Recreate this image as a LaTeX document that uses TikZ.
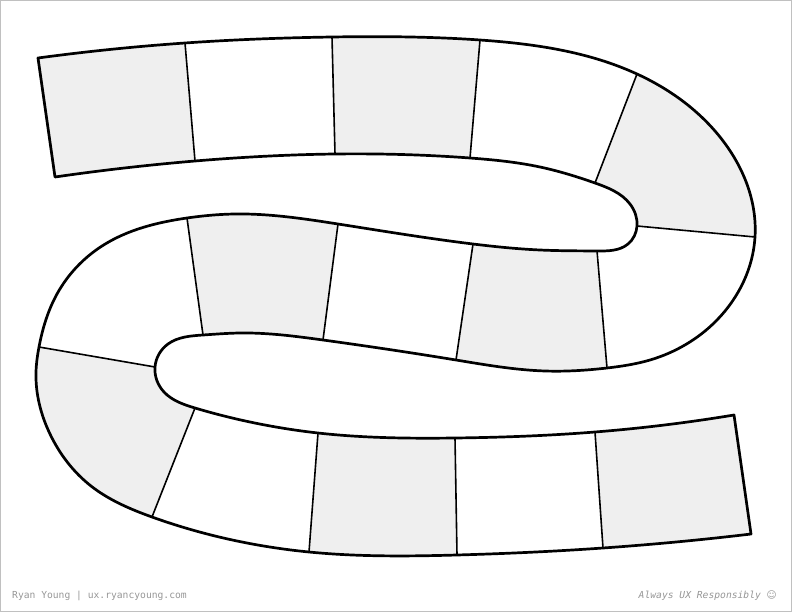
\documentclass[tikz,border=0pt]{standalone}
\usepackage{fontspec}
\setmonofont{DejaVu Sans Mono}
\newfontfamily\symbolfont{DejaVu Sans}
\usepackage{tikz}
\usetikzlibrary{hobby}
\definecolor{cTile}{RGB}{239,239,239}
\definecolor{cFrame}{RGB}{192,192,192}
\definecolor{cNote}{RGB}{150,150,150}
\tikzset{
	rim/.style     ={line width=2.7bp, line join=round, draw=black},
	divider/.style ={line width=1.6bp, draw=black},
	tile/.style    ={fill=cTile},
	note/.style    ={font=\ttfamily\fontsize{9.7}{11}\selectfont, text=cNote, inner sep=0pt},
}
% the winding track: one rim out and along, the other rim back, closed by the two end cuts
\newcommand{\trackshape}{(38,58) .. (185,43) .. (332,37) .. (480,40) .. (637,74) .. (720,137) .. (755,237) .. (717,320) .. (650,360) .. (607,368) .. (545,371) .. (456,360) .. (323,340) .. (240,333) .. (203,335) .. (168,344) .. (155,367) .. (164,392) .. (195,408) .. (250,422) .. (318,433) .. (455,438) .. (595,432) .. (734,415)
 -- (751,534) .. (603,548) .. (457,555) .. (309,552) .. (152,517) .. (91,486) .. (50,434) .. (36,372) .. (39,347) .. (57,294) .. (102,246) .. (187,218) .. (235,214) .. (338,224) .. (473,244) .. (540,250) .. (597,251) .. (628,244) .. (637,226) .. (630,204) .. (595,183) .. (540,167) .. (470,158) .. (335,154) .. (195,161) .. (55,177)
 -- cycle}

\begin{document}
\begin{tikzpicture}[x=1bp, y=-1bp, use Hobby shortcut]
	\useasboundingbox (0,0) rectangle (792,612);
	\draw[cFrame, line width=1bp] (0.5,0.5) rectangle (791.5,611.5);

	\fill[white] \trackshape;
	% shaded squares
	\begin{scope}
		\clip \trackshape;
		\fill[tile] (20,20) -- (183,20) -- (197,185) -- (20,185) -- cycle;
		\fill[tile] (331,20) -- (482,20) -- (468,185) -- (336,185) -- cycle;
		\fill[tile] (595,183) -- (660,14) -- (790,14) -- (790,240) -- (637,226) -- cycle;
		\fill[tile] (474,235) -- (594,235) -- (609,385) -- (453,385) -- cycle;
		\fill[tile] (184,200) -- (341,200) -- (322,350) -- (205,350) -- cycle;
		\fill[tile] (155,366) -- (10,342) -- (10,560) -- (140,548) -- (194,409) -- cycle;
		\fill[tile] (319,420) -- (455,420) -- (458,570) -- (308,570) -- cycle;
		\fill[tile] (594,420) -- (770,400) -- (770,570) -- (605,570) -- cycle;
	\end{scope}

	% square borders
	\draw[divider] (185,43) -- (195,161);
	\draw[divider] (332,37) -- (335,154);
	\draw[divider] (480,40) -- (470,158);
	\draw[divider] (637,74) -- (595,183);
	\draw[divider] (637,226) -- (755,237);
	\draw[divider] (597,251) -- (607,368);
	\draw[divider] (473,244) -- (456,360);
	\draw[divider] (338,224) -- (323,340);
	\draw[divider] (187,218) -- (203,335);
	\draw[divider] (39,347) -- (155,367);
	\draw[divider] (195,408) -- (152,517);
	\draw[divider] (318,433) -- (309,552);
	\draw[divider] (455,438) -- (457,555);
	\draw[divider] (595,432) -- (603,548);

	\draw[rim] \trackshape;

	\node[note, anchor=base west] (credit) at (12,598) {Ryan Young | ux.ryancyoung.com};
	\node[note, anchor=base east] (motto) at (777,598) {\itshape Always UX Responsibly {\symbolfont ☺}};
\end{tikzpicture}
\end{document}
